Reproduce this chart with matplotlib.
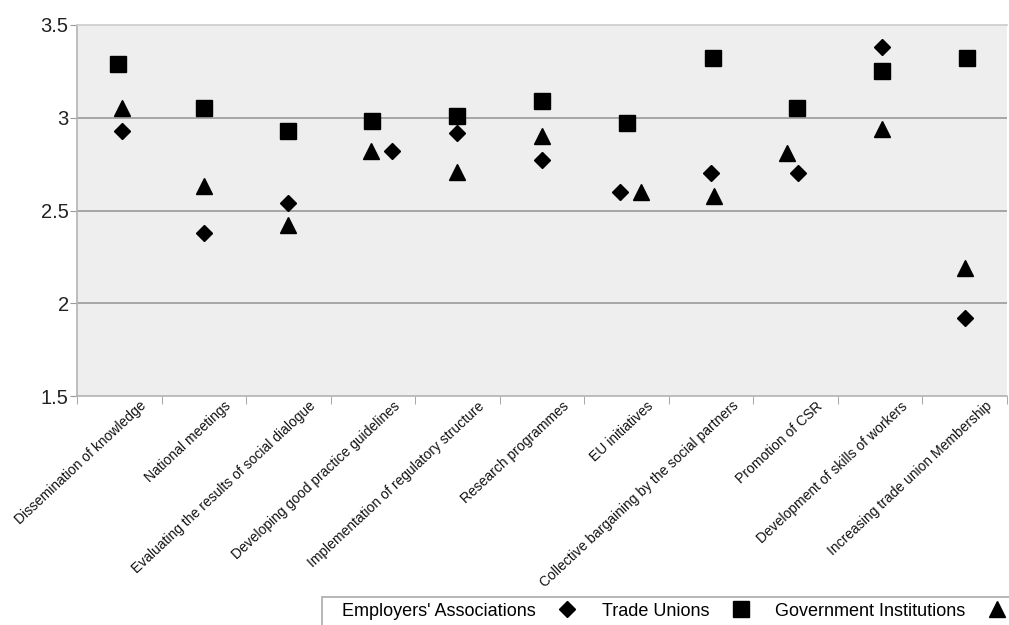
import matplotlib
matplotlib.use("Agg")
import matplotlib.pyplot as plt
import matplotlib.transforms as mtransforms
from matplotlib.patches import Rectangle
import numpy as np

categories = [
    "Dissemination of knowledge",
    "National meetings",
    "Evaluating the results of social dialogue",
    "Developing good practice guidelines",
    "Implementation of regulatory structure",
    "Research programmes",
    "EU initiatives",
    "Collective bargaining by the social partners",
    "Promotion of CSR",
    "Development of skills of workers",
    "Increasing trade union Membership",
]
employers = [2.93, 2.38, 2.54, 2.82, 2.92, 2.77, 2.60, 2.70, 2.70, 3.38, 1.92]
unions = [3.29, 3.05, 2.93, 2.98, 3.01, 3.09, 2.97, 3.32, 3.05, 3.25, 3.32]
government = [3.05, 2.63, 2.42, 2.82, 2.71, 2.90, 2.60, 2.58, 2.81, 2.94, 2.19]

# small horizontal shifts to avoid overlap (fraction of a category)
dx_emp = [0.03, 0, 0, 0.22, 0, 0, -0.08, 0, 0.03, 0.02, 0]
dx_uni = [-0.02, 0, 0, -0.01, 0, 0, 0, 0.02, 0.02, 0.02, 0.03]
dx_gov = [0.03, 0, 0, -0.02, 0, 0, 0.17, 0.03, -0.1, 0.02, 0]

plt.rcParams['font.family'] = ['Liberation Sans', 'DejaVu Sans']

W, H = 1009, 625
fig = plt.figure(figsize=(W / 100, H / 100), dpi=100)
ax = fig.add_axes([77 / W, 1 - 396 / H, (1007 - 77) / W, (396 - 25) / H])
ax.set_facecolor('#eeeeee')

x = np.arange(len(categories))
ax.plot(x + np.array(dx_emp), employers, linestyle='none', marker='D', ms=8.5,
        color='black', label="Employers' Associations", clip_on=False)
ax.plot(x + np.array(dx_uni), unions, linestyle='none', marker='s', ms=11,
        color='black', label="Trade Unions", clip_on=False)
ax.plot(x + np.array(dx_gov), government, linestyle='none', marker='^', ms=12,
        color='black', label="Government Institutions", clip_on=False)

ax.set_xlim(-0.5, len(categories) - 0.5)
ax.set_ylim(1.5, 3.5)
ax.set_yticks([1.5, 2, 2.5, 3, 3.5])
ax.set_yticklabels(['1.5', '2', '2.5', '3', '3.5'])
for yv in [2, 2.5, 3]:
    ax.axhline(yv, color='#999999', lw=1.2, zorder=0)

for s in ax.spines.values():
    s.set_color('#b3b3b3')
    s.set_linewidth(1.2)
ax.spines['right'].set_visible(False)
ax.spines['top'].set_color('#cccccc')

ax.tick_params(axis='y', length=5, color='#999999', labelsize=14.5, pad=1, labelcolor='#222222')
ax.set_xticks(x)
ax.set_xticklabels([])
ax.tick_params(axis='x', which='major', length=0)
ax.set_xticks(np.arange(-0.5, len(categories) + 0.5, 1), minor=True)
ax.tick_params(axis='x', which='minor', length=6, color='#999999')

offset = mtransforms.ScaledTranslation(25 / 100, -8 / 100, fig.dpi_scale_trans)
trans = mtransforms.blended_transform_factory(ax.transData, ax.transAxes) + offset
for xi, lab in zip(x, categories):
    ax.text(xi, 0, lab, transform=trans, rotation=43, rotation_mode='anchor',
            ha='right', va='center', fontsize=10, color='#111111')

# legend frame drawn manually (it runs off the figure edge in the reference)
fig.patches.append(Rectangle((322 / W, 0 - 0.01), (W + 10 - 322) / W, (1 - 597 / H) + 0.01,
                             transform=fig.transFigure, facecolor='white',
                             edgecolor='#aaaaaa', lw=1.2, zorder=0))
leg = fig.legend(loc='center left', bbox_to_anchor=(342 / W, 1 - 611 / H),
                 ncol=3, markerfirst=False, frameon=False,
                 fontsize=13.0, handlelength=1.2, handletextpad=1.15,
                 columnspacing=1.3, borderpad=0.0, borderaxespad=0)

fig.savefig('out.png', dpi=100)
